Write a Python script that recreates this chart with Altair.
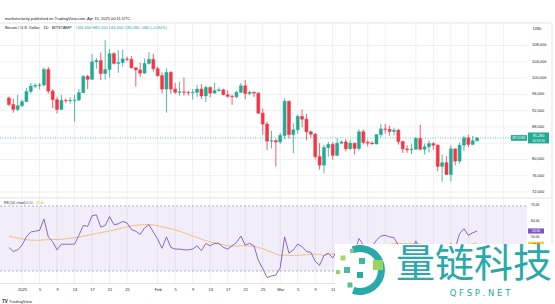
import altair as alt
import pandas as pd

# ---------------- data ----------------
dates = pd.date_range("2024-12-29", periods=108, freq="D").strftime("%Y-%m-%d").tolist()

opens = [95100, 93500, 92300, 93200, 94200, 96700, 98000, 98200, 98300, 102100,
         96800, 94700, 92300, 94500, 94400, 94500, 94600, 96400, 100400, 99700,
         104000, 104300, 101100, 102100, 106000, 103600, 103800, 104700, 104600, 102500,
         102000, 101200, 103600, 104600, 102300, 100600, 97300, 101400, 97300, 96500,
         96600, 96500, 96400, 96500, 97300, 95600, 97700, 96300, 96900, 97100,
         95900, 95500, 95400, 96500, 98100, 96200, 96500, 96300, 91400, 88700,
         84500, 84600, 84300, 85900, 94300, 86100, 87300, 90600, 89900, 86800,
         86200, 80700, 78600, 82900, 83700, 81000, 84000, 84300, 82600, 84000,
         82700, 86800, 84200, 84000, 83800, 86100, 87500, 87400, 86900, 87200,
         84400, 82600, 82400, 82500, 85200, 82500, 83100, 83900, 83500, 78300,
         79200, 76300, 82600, 79600, 83500, 85300, 83700, 84600]

closes = [93500, 92300, 93200, 94200, 96700, 98000, 98200, 98300, 102100, 96800,
          94700, 92300, 94500, 94400, 94500, 94600, 96400, 100400, 99700, 104000,
          104300, 101100, 102100, 106000, 103600, 103800, 104700, 104600, 102500, 102000,
          101200, 103600, 104600, 102300, 100600, 97300, 101400, 97300, 96500, 96600,
          96500, 96400, 96500, 97300, 95600, 97700, 96300, 96900, 97100, 95900,
          95500, 95400, 96500, 98100, 96200, 96500, 96300, 91400, 88700, 84500,
          84600, 84300, 85900, 94300, 86100, 87300, 90600, 89900, 86800, 86200,
          80700, 78600, 82900, 83700, 81000, 84000, 84300, 82600, 84000, 82700,
          86800, 84200, 84000, 83800, 86100, 87500, 87400, 86900, 87200, 84400,
          82600, 82400, 82500, 85200, 82500, 83100, 83900, 83500, 78300, 79200,
          76300, 82600, 79600, 83500, 85300, 83700, 84600, 85280]

highs = [95500, 94900, 95900, 94700, 97600, 98800, 98700, 98800, 102600, 102700,
         97300, 95400, 95900, 95000, 95300, 95900, 97300, 100700, 100800, 105900,
         104900, 106300, 109300, 107100, 106300, 106800, 107000, 105300, 105400, 102700,
         103800, 104800, 106400, 106000, 102800, 101400, 102400, 101700, 98800, 99100,
         100100, 96900, 97300, 98300, 98500, 98100, 97900, 98800, 97700, 97400,
         97000, 96000, 96900, 98800, 99500, 96900, 96700, 96500, 92500, 89300,
         87000, 85100, 86500, 95000, 94400, 88900, 91000, 92300, 91200, 87000,
         86500, 84000, 83600, 84300, 84300, 85300, 84700, 85000, 84700, 84000,
         87400, 87400, 84800, 84500, 86100, 88700, 88700, 88300, 87800, 87500,
         84600, 83500, 83900, 85500, 88500, 83900, 84700, 84200, 83700, 81200,
         80800, 83500, 82700, 84200, 85800, 86100, 85800, 85500]

lows = [93100, 91500, 91900, 92900, 94200, 96200, 97500, 97300, 97900, 96200,
        92600, 91300, 92200, 93800, 93700, 89300, 94300, 96300, 97300, 99600,
        102300, 99500, 99600, 100100, 103300, 101300, 102800, 104100, 102400, 97900,
        100300, 101100, 103300, 101600, 100300, 96200, 91500, 96200, 96100, 95700,
        95700, 95700, 94700, 95300, 94900, 94100, 95300, 96200, 96700, 95800,
        95200, 93400, 95000, 96300, 94800, 95800, 95300, 91200, 86100, 82300,
        82700, 78300, 83800, 85000, 85100, 81500, 86300, 87900, 84700, 85300,
        80000, 77500, 76600, 80700, 79900, 80800, 83700, 82000, 82400, 81200,
        82200, 83700, 83200, 83700, 83700, 85500, 86300, 85900, 85900, 83600,
        81600, 81600, 81300, 82400, 82300, 81200, 81700, 82400, 77100, 74500,
        76200, 74600, 78500, 78900, 82000, 83000, 83600, 84400]

rsi = [44.5, 42, 43, 46, 51, 54, 54.5, 55, 62, 51,
       48, 43, 46.5, 46.5, 46.5, 46.5, 52, 58, 57.5, 64,
       64.5, 57, 58, 63.5, 58.5, 59, 60.5, 59.5, 55.5, 54.5,
       52.5, 56.5, 58.5, 54, 49.5, 44, 51, 44.5, 43.5, 43.5,
       43, 43, 43.5, 45.5, 42.5, 47, 45.5, 47, 47, 44.5,
       43.5, 45.5, 47.5, 51.5, 46, 47, 45.5, 36.5, 31.5, 26,
       27, 27.5, 32, 51, 41, 43, 46.5, 45, 42, 41.5,
       36, 33.5, 39.5, 41, 38, 42.5, 43.5, 41, 43.5, 41.5,
       50, 46, 45.5, 45, 49, 51.5, 52, 51, 50.5, 46,
       42.5, 42, 42.5, 48.5, 43, 44.5, 46, 45, 37.5, 39,
       36.5, 47, 44, 53, 56, 52, 53.5, 54.6]

rsi_ma = [51.5, 50.8, 50.2, 49.7, 49.3, 49, 48.9, 48.9, 49.1, 49.3,
          49.4, 49.4, 49.5, 49.8, 50.1, 50.5, 50.9, 51.4, 51.9, 52.5,
          53.1, 53.6, 54.1, 54.6, 55.2, 55.9, 56.6, 57.2, 57.7, 58.1,
          58.4, 58.6, 58.6, 58.3, 57.8, 57.2, 56.6, 56, 55.2, 54.4,
          53.5, 52.6, 51.6, 50.6, 49.6, 48.7, 47.9, 47.2, 46.6, 46.1,
          45.6, 45.4, 45.3, 45.5, 45.5, 45.4, 45.2, 44.6, 43.7, 42.6,
          41.6, 40.5, 39.6, 39.8, 39.6, 39.5, 39.6, 39.8, 40, 40.3,
          40.4, 40.2, 39.6, 40.4, 40.6, 40.6, 40.4, 40.4, 40.6, 40.9,
          41.8, 42.3, 42.9, 43.5, 44.3, 45.1, 45.9, 46.4, 46.9, 47,
          46.9, 46.8, 46.8, 46.9, 46.5, 46.1, 45.7, 45.3, 44.7, 44.2,
          43.7, 43.9, 44, 44.6, 45.4, 46, 46.7, 47.4]

price_grid = [108000, 104000, 100000, 96000, 92000, 88000, 84000, 80000, 76000, 72000]
price_labels = [108000, 104000, 100000, 96000, 92000, 88000, 80000, 76000, 72000]
rsi_levels = [70, 30]
rsi_labels = [70, 60, 50]
grid_dates = ["2025-01-01", "2025-01-05", "2025-01-09", "2025-01-13", "2025-01-17", "2025-01-21",
              "2025-01-25", "2025-02-01", "2025-02-05", "2025-02-09", "2025-02-13", "2025-02-17",
              "2025-02-21", "2025-02-25", "2025-03-01", "2025-03-05", "2025-03-09", "2025-03-13",
              "2025-03-17", "2025-03-21", "2025-03-25", "2025-04-01", "2025-04-05", "2025-04-09",
              "2025-04-13", "2025-04-17", "2025-04-21"]
label_days = [(1, 1), (1, 5), (1, 9), (1, 13), (1, 17), (1, 21), (1, 25),
              (2, 1), (2, 5), (2, 9), (2, 13), (2, 17), (2, 21), (2, 25),
              (3, 1), (3, 5), (3, 9), (3, 13)]

# ---------------- styling / layout ----------------
GREEN = "#22ab94"
RED = "#f23645"
PURPLE = "#7e57c2"
MACOL = "#f5b45b"
GRID = "#eef0f4"
TXT = "#131722"
FONT = "Liberation Sans"
W, H = 527, 260
PD = [49638, 113529]
RD = [22.615, 182.6]
DAY = 86400000
base_ms = int(pd.Timestamp("2024-12-29", tz="UTC").value // 10**6)
XD = [base_ms - 0.897 * DAY, base_ms + 117.26 * DAY]

df = pd.DataFrame({"date": dates, "open": opens, "high": highs, "low": lows,
                   "close": closes, "rsi": rsi, "ma": rsi_ma})
df["dir"] = ["up" if c >= o else "down" for o, c in zip(opens, closes)]

xaxis = alt.Axis(
    values=[alt.DateTime(year=2025, month=m, date=d, utc=True) for m, d in label_days],
    labelExpr="utcdate(datum.value) == 1 ? (utcmonth(datum.value) == 0 ? '2025' : utcFormat(datum.value, '%b')) : '' + utcdate(datum.value)",
    labelFontSize=4, labelFont=FONT, labelColor=TXT, labelPadding=4,
    ticks=False, domain=True, domainColor="#e0e3eb", domainWidth=1,
    grid=False, labelOverlap=False, labelFlush=False,
    title=None)
X = alt.X("date:T", scale=alt.Scale(type="utc", domain=XD), axis=xaxis, title=None)


def yP(f):
    return alt.Y(f"{f}:Q", scale=alt.Scale(domain=PD, nice=False, zero=False), axis=None, title=None)


def yR(f):
    return alt.Y(f"{f}:Q", scale=alt.Scale(domain=RD, nice=False, zero=False), axis=None, title=None)


COL = alt.Color("dir:N", scale=alt.Scale(domain=["up", "down"], range=[GREEN, RED]), legend=None)
STK = alt.Stroke("dir:N", scale=alt.Scale(domain=["up", "down"], range=[GREEN, RED]), legend=None)

one = pd.DataFrame({"a": [0]})


def txt(s, x, y, size=4, color=TXT, align="left", weight="normal", font=FONT):
    return alt.Chart(one).mark_text(text=s, align=align, baseline="middle", fontSize=size,
                                    color=color, fontWeight=weight, font=font).encode(
        x=alt.value(x), y=alt.value(y))


layers = []

# vertical grid
layers.append(alt.Chart(pd.DataFrame({"date": grid_dates})).mark_rule(color=GRID, strokeWidth=1).encode(
    x=X, y=alt.value(0), y2=alt.value(H)))

# price grid
layers.append(alt.Chart(pd.DataFrame({"p": price_grid})).mark_rule(color=GRID, strokeWidth=1).encode(
    x=alt.value(0), x2=alt.value(W), y=yP("p")))

# RSI band + levels
layers.append(alt.Chart(pd.DataFrame({"a": [70], "b": [30]})).mark_rect(color=PURPLE, opacity=0.1).encode(
    x=alt.value(0), x2=alt.value(W), y=yR("a"), y2="b:Q"))
layers.append(alt.Chart(pd.DataFrame({"lv": rsi_levels})).mark_rule(
    color="#787b86", strokeWidth=0.7, strokeDash=[2, 2], opacity=0.8).encode(
    x=alt.value(0), x2=alt.value(W), y=yR("lv")))

# frame lines
layers.append(alt.Chart(one).mark_rule(color="#e0e3eb", strokeWidth=1).encode(
    x=alt.value(0), x2=alt.value(552), y=alt.value(0)))
layers.append(alt.Chart(one).mark_rule(color="#e0e3eb", strokeWidth=1).encode(
    x=alt.value(0), x2=alt.value(552), y=alt.value(175)))
layers.append(alt.Chart(one).mark_rule(color="#e0e3eb", strokeWidth=1).encode(
    x=alt.value(552), y=alt.value(0), y2=alt.value(H)))

# candles
layers.append(alt.Chart(df).mark_rule(strokeWidth=0.8).encode(x=X, y=yP("high"), y2="low:Q", color=COL))
layers.append(alt.Chart(df).mark_bar(size=3, strokeWidth=0.5).encode(
    x=X, y=yP("open"), y2="close:Q", color=COL, stroke=STK))

# current price line
last = closes[-1]
layers.append(alt.Chart(pd.DataFrame({"p": [last]})).mark_rule(
    color=GREEN, strokeWidth=0.7, strokeDash=[1, 1.5]).encode(x=alt.value(0), x2=alt.value(511), y=yP("p")))

# RSI lines
layers.append(alt.Chart(df).mark_line(color=MACOL, strokeWidth=1, opacity=0.8).encode(x=X, y=yR("ma")))
layers.append(alt.Chart(df).mark_line(color=PURPLE, strokeWidth=0.9).encode(x=X, y=yR("rsi")))

# price axis labels
layers.append(alt.Chart(pd.DataFrame({"p": price_labels})).mark_text(
    align="left", baseline="middle", fontSize=4, font=FONT, color=TXT).encode(
    x=alt.value(532), y=yP("p"), text=alt.Text("p:Q", format=",")))
layers.append(txt("USD", 533, 6, size=4))

# price boxes
pbox = pd.DataFrame({"p": [last]})
layers.append(alt.Chart(pbox).transform_calculate(t="datum.p + 1350", b="datum.p - 1350").mark_rect(
    color=GREEN).encode(x=alt.value(528), x2=alt.value(549), y=yP("t"), y2="b:Q"))
layers.append(alt.Chart(pbox).transform_calculate(t="datum.p + 700", b="datum.p - 700").mark_rect(
    color=GREEN).encode(x=alt.value(511), x2=alt.value(527), y=yP("t"), y2="b:Q"))
layers.append(alt.Chart(pbox).mark_text(align="center", baseline="middle", fontSize=3.8, font=FONT,
                                        color="white", dy=-2.3).encode(
    x=alt.value(538.5), y=yP("p"), text=alt.Text("p:Q", format=",")))
layers.append(alt.Chart(pbox).mark_text(align="center", baseline="middle", fontSize=3.2, font=FONT,
                                        color="white", dy=2.7, text="10:53:34").encode(
    x=alt.value(538.5), y=yP("p")))
layers.append(alt.Chart(pbox).mark_text(align="center", baseline="middle", fontSize=3.2, font=FONT,
                                        color="white", text="BTCUSD").encode(
    x=alt.value(519), y=yP("p")))

# RSI axis labels
layers.append(alt.Chart(pd.DataFrame({"v": rsi_labels})).mark_text(
    align="left", baseline="middle", fontSize=3.4, font=FONT, color=TXT, dy=-1.2).encode(
    x=alt.value(531), y=yR("v"), text=alt.Text("v:Q", format=".2f")))

# RSI value boxes
rbox = pd.DataFrame({"v": [rsi[-1]]})
mbox = pd.DataFrame({"v": [rsi_ma[-1]]})
layers.append(alt.Chart(rbox).transform_calculate(t="datum.v + 1.6", b="datum.v - 1.6").mark_rect(
    color=PURPLE).encode(x=alt.value(528), x2=alt.value(544), y=yR("t"), y2="b:Q"))
layers.append(alt.Chart(rbox).mark_text(align="center", baseline="middle", fontSize=3.3, font=FONT,
                                        color="white").encode(
    x=alt.value(536), y=yR("v"), text=alt.Text("v:Q", format=".2f")))
layers.append(alt.Chart(mbox).transform_calculate(t="datum.v + 0.6", b="datum.v - 2.6").mark_rect(
    color="#f7c843").encode(x=alt.value(528), x2=alt.value(544), y=yR("t"), y2="b:Q"))
layers.append(alt.Chart(mbox).mark_text(align="center", baseline="middle", fontSize=2.9, font=FONT,
                                        color=TXT, dy=1.6).encode(
    x=alt.value(536), y=yR("v"), text=alt.Text("v:Q", format=".2f")))

# headers
o, h, l, c = opens[-1], highs[-1], lows[-1], closes[-1]
chg = c - closes[-2]
pct = chg / closes[-2] * 100
layers.append(txt("marketsclarity published on TradingView.com, Apr 15, 2025 00:11 UTC", 5, -4, size=4))
layers.append(txt("Bitcoin / U.S. Dollar · 1D · BITSTAMP", 5, 5, size=4))
layers.append(txt(f"O{o:,} H{h:,} L{l:,} C{c:,} {chg:+,} ({pct:+.2f}%)", 76, 5, size=4, color=GREEN))
layers.append(txt("RSI (14, close)", 4, 180, size=3.2))
layers.append(txt(f"{rsi[-1]:.2f}", 25, 180, size=3.2, color=PURPLE))
layers.append(txt(f"{rsi_ma[-1]:.2f}", 36, 180, size=3.2, color="#e3a72f"))
layers.append(txt("TV", 2, 279, size=4.5, weight="bold"))
layers.append(txt("TradingView", 9, 279, size=4.2, color="#2a2e39"))

# watermark
WM = "#29a9a9"
layers.append(alt.Chart(one).mark_rect(color="white", opacity=0.96).encode(
    x=alt.value(335), x2=alt.value(555), y=alt.value(221), y2=alt.value(281)))
layers.append(alt.Chart(one).mark_arc(theta=5.95, theta2=9.75, radius=25, radius2=18, color=WM).encode(
    x=alt.value(360), y=alt.value(247)))
for sx, sy, ss, sc in [(343, 235, 25, "#a6d86c"), (352, 228, 16, "#7fcb7a"), (362, 238, 36, "#3fb89b"),
                       (378, 242, 100, "#9bd35f"), (347, 247, 36, "#4fbb95"), (360, 252, 36, "#2aa9a9"),
                       (350, 262, 25, "#58c08e"), (338, 249, 16, "#8fd070")]:
    layers.append(alt.Chart(one).mark_square(size=ss, color=sc, opacity=1, filled=True).encode(
        x=alt.value(sx), y=alt.value(sy)))
layers.append(txt("量链科技", 396, 242, size=39, color=WM, font="Noto Sans CJK SC"))
layers.append(txt("Q F S P . N E T", 480, 270, size=8.5, color=WM, align="center", font="DejaVu Sans"))

chart = alt.layer(*layers).resolve_scale(y="independent").properties(
    width=W, height=H,
    padding={"left": 0, "top": 23, "right": 28, "bottom": 21},
    autosize=alt.AutoSizeParams(type="none"),
    background="white",
).configure_view(stroke=None)

chart.save("out.html", embed_options={"renderer": "svg", "actions": False})
